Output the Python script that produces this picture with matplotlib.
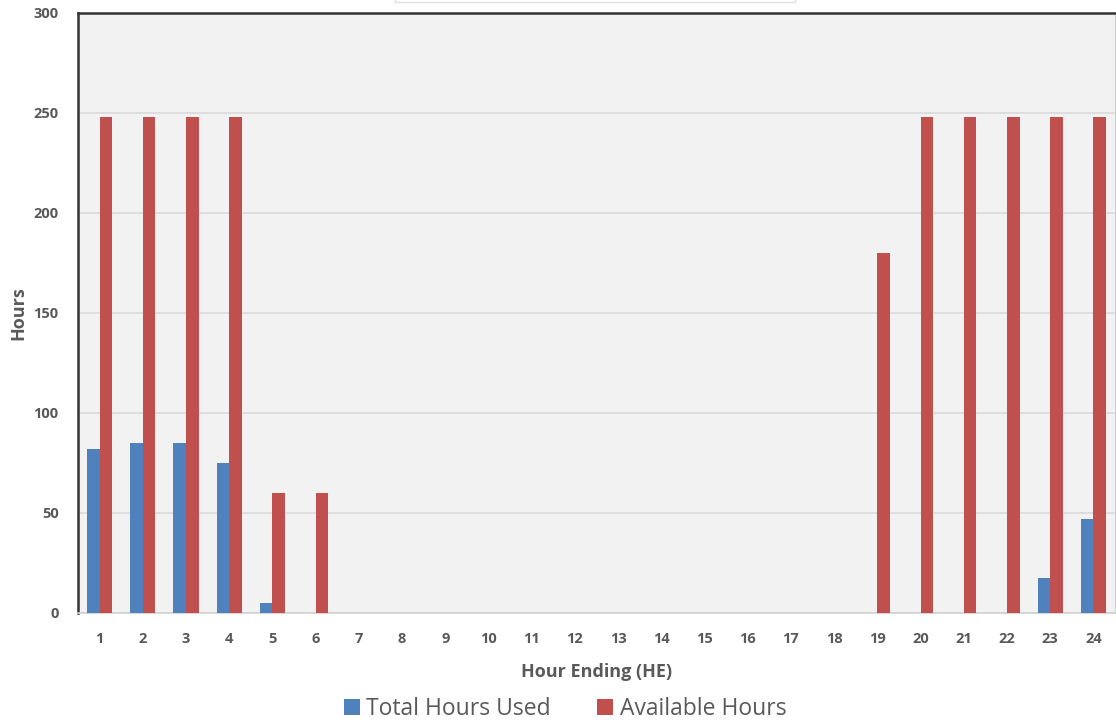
import matplotlib.pyplot as plt
import numpy as np
from matplotlib.patches import Rectangle

plt.rcParams['font.family'] = ['Open Sans', 'DejaVu Sans']

# hour ending 1..24
hours = list(range(1, 25))
total_used = [82, 85, 85, 75, 5, 0, 0, 0, 0, 0, 0, 0,
              0, 0, 0, 0, 0, 0, 0, 0, 0, 0, 17.5, 47]
available = [248, 248, 248, 248, 60, 60, 0, 0, 0, 0, 0, 0,
             0, 0, 0, 0, 0, 0, 180, 248, 248, 248, 248, 248]
series_names = ["Total Hours Used", "Available Hours"]

blue = "#4F81BD"
red = "#C0504D"
txt = "#595959"

fig = plt.figure(figsize=(11.16, 7.25), dpi=100)
ax = fig.add_axes([78/1116, 1 - 613/725, 1037/1116, 600/725])
ax.set_facecolor("#F2F2F2")

x = np.array(hours)
w = 0.29
ax.bar(x - w/2, total_used, width=w, color=blue, label=series_names[0], zorder=3)
ax.bar(x + w/2, available, width=w, color=red, label=series_names[1], zorder=3)

ax.set_xlim(0.5, 24.5)
ax.set_ylim(0, 300)
ax.set_yticks(range(0, 301, 50))
ax.set_xticks(hours)
ax.grid(axis="y", color="#D9D9D9", linewidth=1.2, zorder=0)
ax.tick_params(axis="both", length=0, labelcolor=txt, labelsize=10.5)
ax.tick_params(axis="x", pad=14)
ax.tick_params(axis="y", pad=14)
for lab in ax.get_xticklabels() + ax.get_yticklabels():
    lab.set_fontweight("bold")

ax.spines["left"].set_color("#333333")
ax.spines["left"].set_linewidth(1.8)
ax.spines["top"].set_color("#333333")
ax.spines["top"].set_linewidth(1.8)
ax.spines["right"].set_color("#D0D0D0")
ax.spines["bottom"].set_color("#D0D0D0")
ax.spines["bottom"].set_linewidth(1.2)

ax.set_xlabel("Hour Ending (HE)", fontsize=13, fontweight="bold", color=txt)
ax.xaxis.set_label_coords(0.5, -(663 - 613) / 600, transform=ax.transAxes)
ax.set_ylabel("Hours", fontsize=13, fontweight="bold", color=txt, va="center")
ax.yaxis.set_label_coords(-(78 - 18) / 1037, 0.5)

# faint edge of a cut-off title box at the top
fig.patches.append(Rectangle((395/1116, 1 - 2/725), 400/1116, 0.05,
                             transform=fig.transFigure, fill=False,
                             edgecolor="#E0E0E0", linewidth=1))

handles, labels = ax.get_legend_handles_labels()
fig.legend(handles, labels, loc="center", bbox_to_anchor=(565/1116, 1 - 709/725),
           ncol=2, frameon=False, fontsize=16.5, labelcolor=txt,
           handlelength=0.7, handleheight=0.7, handletextpad=0.3, columnspacing=2.0)

fig.savefig("out.png", dpi=100)
